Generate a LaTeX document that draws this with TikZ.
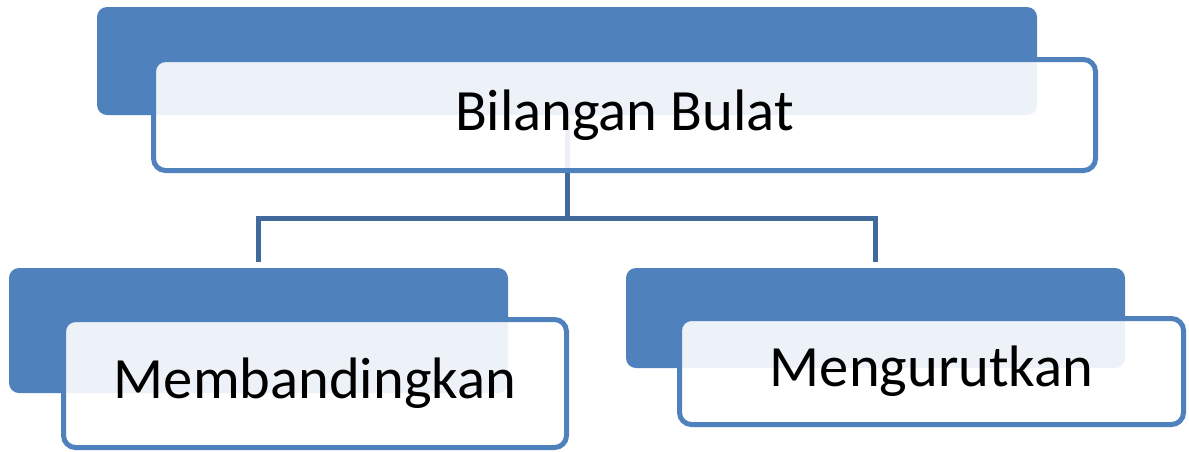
\documentclass[tikz,border=0pt]{standalone}
\usepackage{fontspec}
\setmainfont{Carlito}
\definecolor{accent}{HTML}{4F81BD}
\definecolor{linkblue}{HTML}{416A9C}
\tikzset{
  x=1pt, y=-1pt,
  backbox/.style={rectangle, rounded corners=10pt, fill=accent, draw=none, inner sep=0pt},
  frontbox/.style={rectangle, rounded corners=12pt, draw=accent, line width=5pt,
    fill=white, fill opacity=0.9, draw opacity=1, text opacity=1, inner sep=0pt,
    font=\fontsize{58.5}{66}\selectfont},
  link/.style={draw=linkblue, line width=5pt},
}
\begin{document}
\begin{tikzpicture}
\useasboundingbox (0,0) rectangle (1189,451);
% shaded back plates
\node[backbox, minimum width=940pt, minimum height=108pt] (tb) at (567,61) {};
\node[backbox, minimum width=499pt, minimum height=125pt] (lb) at (258.5,330.5) {};
\node[backbox, minimum width=499pt, minimum height=100pt] (rb) at (875.5,318) {};
% tree connectors
\draw[link] (tb.south) -- ++(0,103.5) coordinate (split);
\draw[link] (split -| lb.north) -- ([yshift=6pt]lb.north);
\draw[link] (split -| rb.north) -- ([yshift=6pt]rb.north);
\draw[link] ([xshift=-2.5pt]split -| lb.north) -- ([xshift=2.5pt]split -| rb.north);
% labelled front cards
\node[frontbox, minimum width=942pt, minimum height=111pt] (tf) at (624.5,115) {Bilangan Bulat};
\node[frontbox, minimum width=503pt, minimum height=128pt] (lf) at (315,383.5) {Membandingkan};
\node[frontbox, minimum width=504pt, minimum height=106pt] (rf) at (931.5,371.5) {Mengurutkan};
\end{tikzpicture}
\end{document}
